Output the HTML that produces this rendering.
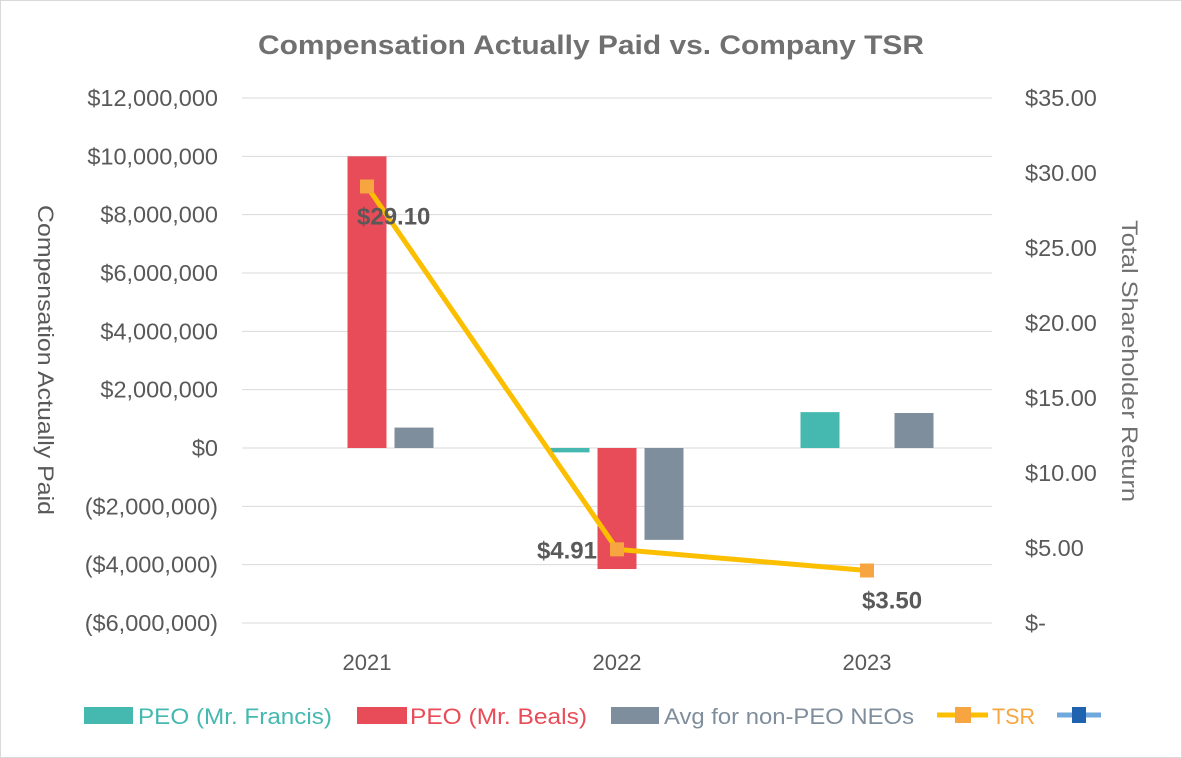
<!DOCTYPE html>
<html><head><meta charset="utf-8"><style>
body{margin:0;background:#fff;}
svg{display:block;font-family:"Liberation Sans",sans-serif;}
</style></head><body>
<svg id="chart" width="1182" height="758" viewBox="0 0 1182 758">
<rect x="0.5" y="0.5" width="1181" height="757" fill="#fff" stroke="#d9d9d9"/>
<text x="258" y="54" textLength="666" lengthAdjust="spacingAndGlyphs" font-size="27" font-weight="bold" fill="#707070">Compensation Actually Paid vs. Company TSR</text>
<g id="grid"></g><g id="bars"></g><g id="line"></g><g id="labels"></g>
<text transform="translate(38,205) rotate(90)" textLength="310" lengthAdjust="spacingAndGlyphs" font-size="22" fill="#595959">Compensation Actually Paid</text>
<text transform="translate(1122,220) rotate(90)" textLength="282" lengthAdjust="spacingAndGlyphs" font-size="22" fill="#707070">Total Shareholder Return</text>
<g font-size="22">
<rect x="84" y="707" width="49" height="17" fill="#45b9b0"/>
<text x="138" y="724" textLength="194" lengthAdjust="spacingAndGlyphs" fill="#45b9b0">PEO (Mr. Francis)</text>
<rect x="357" y="707" width="50" height="17" fill="#e84c58"/>
<text x="410" y="724" textLength="177" lengthAdjust="spacingAndGlyphs" fill="#e84c58">PEO (Mr. Beals)</text>
<rect x="611" y="707" width="48" height="17" fill="#7f8e9c"/>
<text x="664" y="724" textLength="250" lengthAdjust="spacingAndGlyphs" fill="#7f8e9c">Avg for non-PEO NEOs</text>
<line x1="937" y1="715" x2="988" y2="715" stroke="#fbbf00" stroke-width="5"/>
<rect x="955" y="707" width="16" height="16" fill="#f6a540"/>
<text x="992" y="724" textLength="43" lengthAdjust="spacingAndGlyphs" fill="#f6a540">TSR</text>
<line x1="1057" y1="715" x2="1101" y2="715" stroke="#6fa8dc" stroke-width="5"/>
<rect x="1072" y="707" width="14" height="16" fill="#1f63b0"/>
</g>
</svg>
<script>
const categories=["2021","2022","2023"];
const francis=[0,-150000,1230000];
const beals=[10000000,-4150000,0];
const avgNeo=[700000,-3150000,1200000];
const tsr=[29.10,4.91,3.50];
const tsrLabels=["$29.10","$4.91","$3.50"];
const leftTicks=[12000000,10000000,8000000,6000000,4000000,2000000,0,-2000000,-4000000,-6000000];
const rightTicks=[35,30,25,20,15,10,5,0];

const NS="http://www.w3.org/2000/svg";
const X0=242,X1=992,TOP=98,BOT=623;
const yL=v=>448-(v/2000000)*58.333;
const yR=v=>BOT-(v/35)*(BOT-TOP);
const bw=(X1-X0)/categories.length;
const xC=i=>X0+bw*(i+0.5);
function mk(tag,attrs,parent){const e=document.createElementNS(NS,tag);for(const k in attrs)e.setAttribute(k,attrs[k]);parent.appendChild(e);return e;}
const grid=document.getElementById('grid'),bars=document.getElementById('bars'),line=document.getElementById('line'),labels=document.getElementById('labels');
const fmtL=v=>{const s='$'+Math.abs(v).toLocaleString('en-US');return v<0?'('+s+')':s;};
leftTicks.forEach(v=>{
  const l=mk('line',{x1:X0,x2:X1,y1:yL(v),y2:yL(v),stroke:'#d9d9d9','stroke-width':1},grid);
  
  
  const t=mk('text',{x:218,y:yL(v)+8,'text-anchor':'end','font-size':23.5,fill:'#595959'},grid);
  t.textContent=fmtL(v);
  
  
});
rightTicks.forEach(v=>{
  const t=mk('text',{x:1025,y:yR(v)+8,'font-size':23.5,fill:'#595959'},grid);
  t.textContent=v===0?'$-':'$'+v.toFixed(2);
  
  
});
categories.forEach((c,i)=>{
  const t=mk('text',{x:xC(i),y:670,'text-anchor':'middle','font-size':22,fill:'#595959'},grid);
  t.textContent=c;
  
  
});
const series=[[francis,'#45b9b0',-47,'bar-francis'],[beals,'#e84c58',0,'bar-beals'],[avgNeo,'#7f8e9c',47,'bar-avg-neo']];
series.forEach(([arr,col,off,name])=>{
  arr.forEach((v,i)=>{
    if(v===0)return;
    const y0=yL(0),y1=yL(v);
    const r=mk('rect',{x:xC(i)+off-19.5,y:Math.min(y0,y1),width:39,height:Math.abs(y1-y0),fill:col},bars);
    
    
  });
});
const pts=tsr.map((v,i)=>xC(i)+','+yR(v)).join(' ');
const pl=mk('polyline',{points:pts,fill:'none',stroke:'#fbbf00','stroke-width':5},line);


const lblOff=[[-10,38,'start'],[-20,9,'end'],[-5,38,'start']];
tsr.forEach((v,i)=>{
  const m=mk('rect',{x:xC(i)-7,y:yR(v)-7,width:14,height:14,fill:'#f6a540'},line);
  
  
  const t=mk('text',{x:xC(i)+lblOff[i][0],y:yR(v)+lblOff[i][1],'text-anchor':lblOff[i][2],'font-size':24,'font-weight':'bold',fill:'#595959'},labels);
  t.textContent=tsrLabels[i];
  
  
});
</script>
</body></html>
